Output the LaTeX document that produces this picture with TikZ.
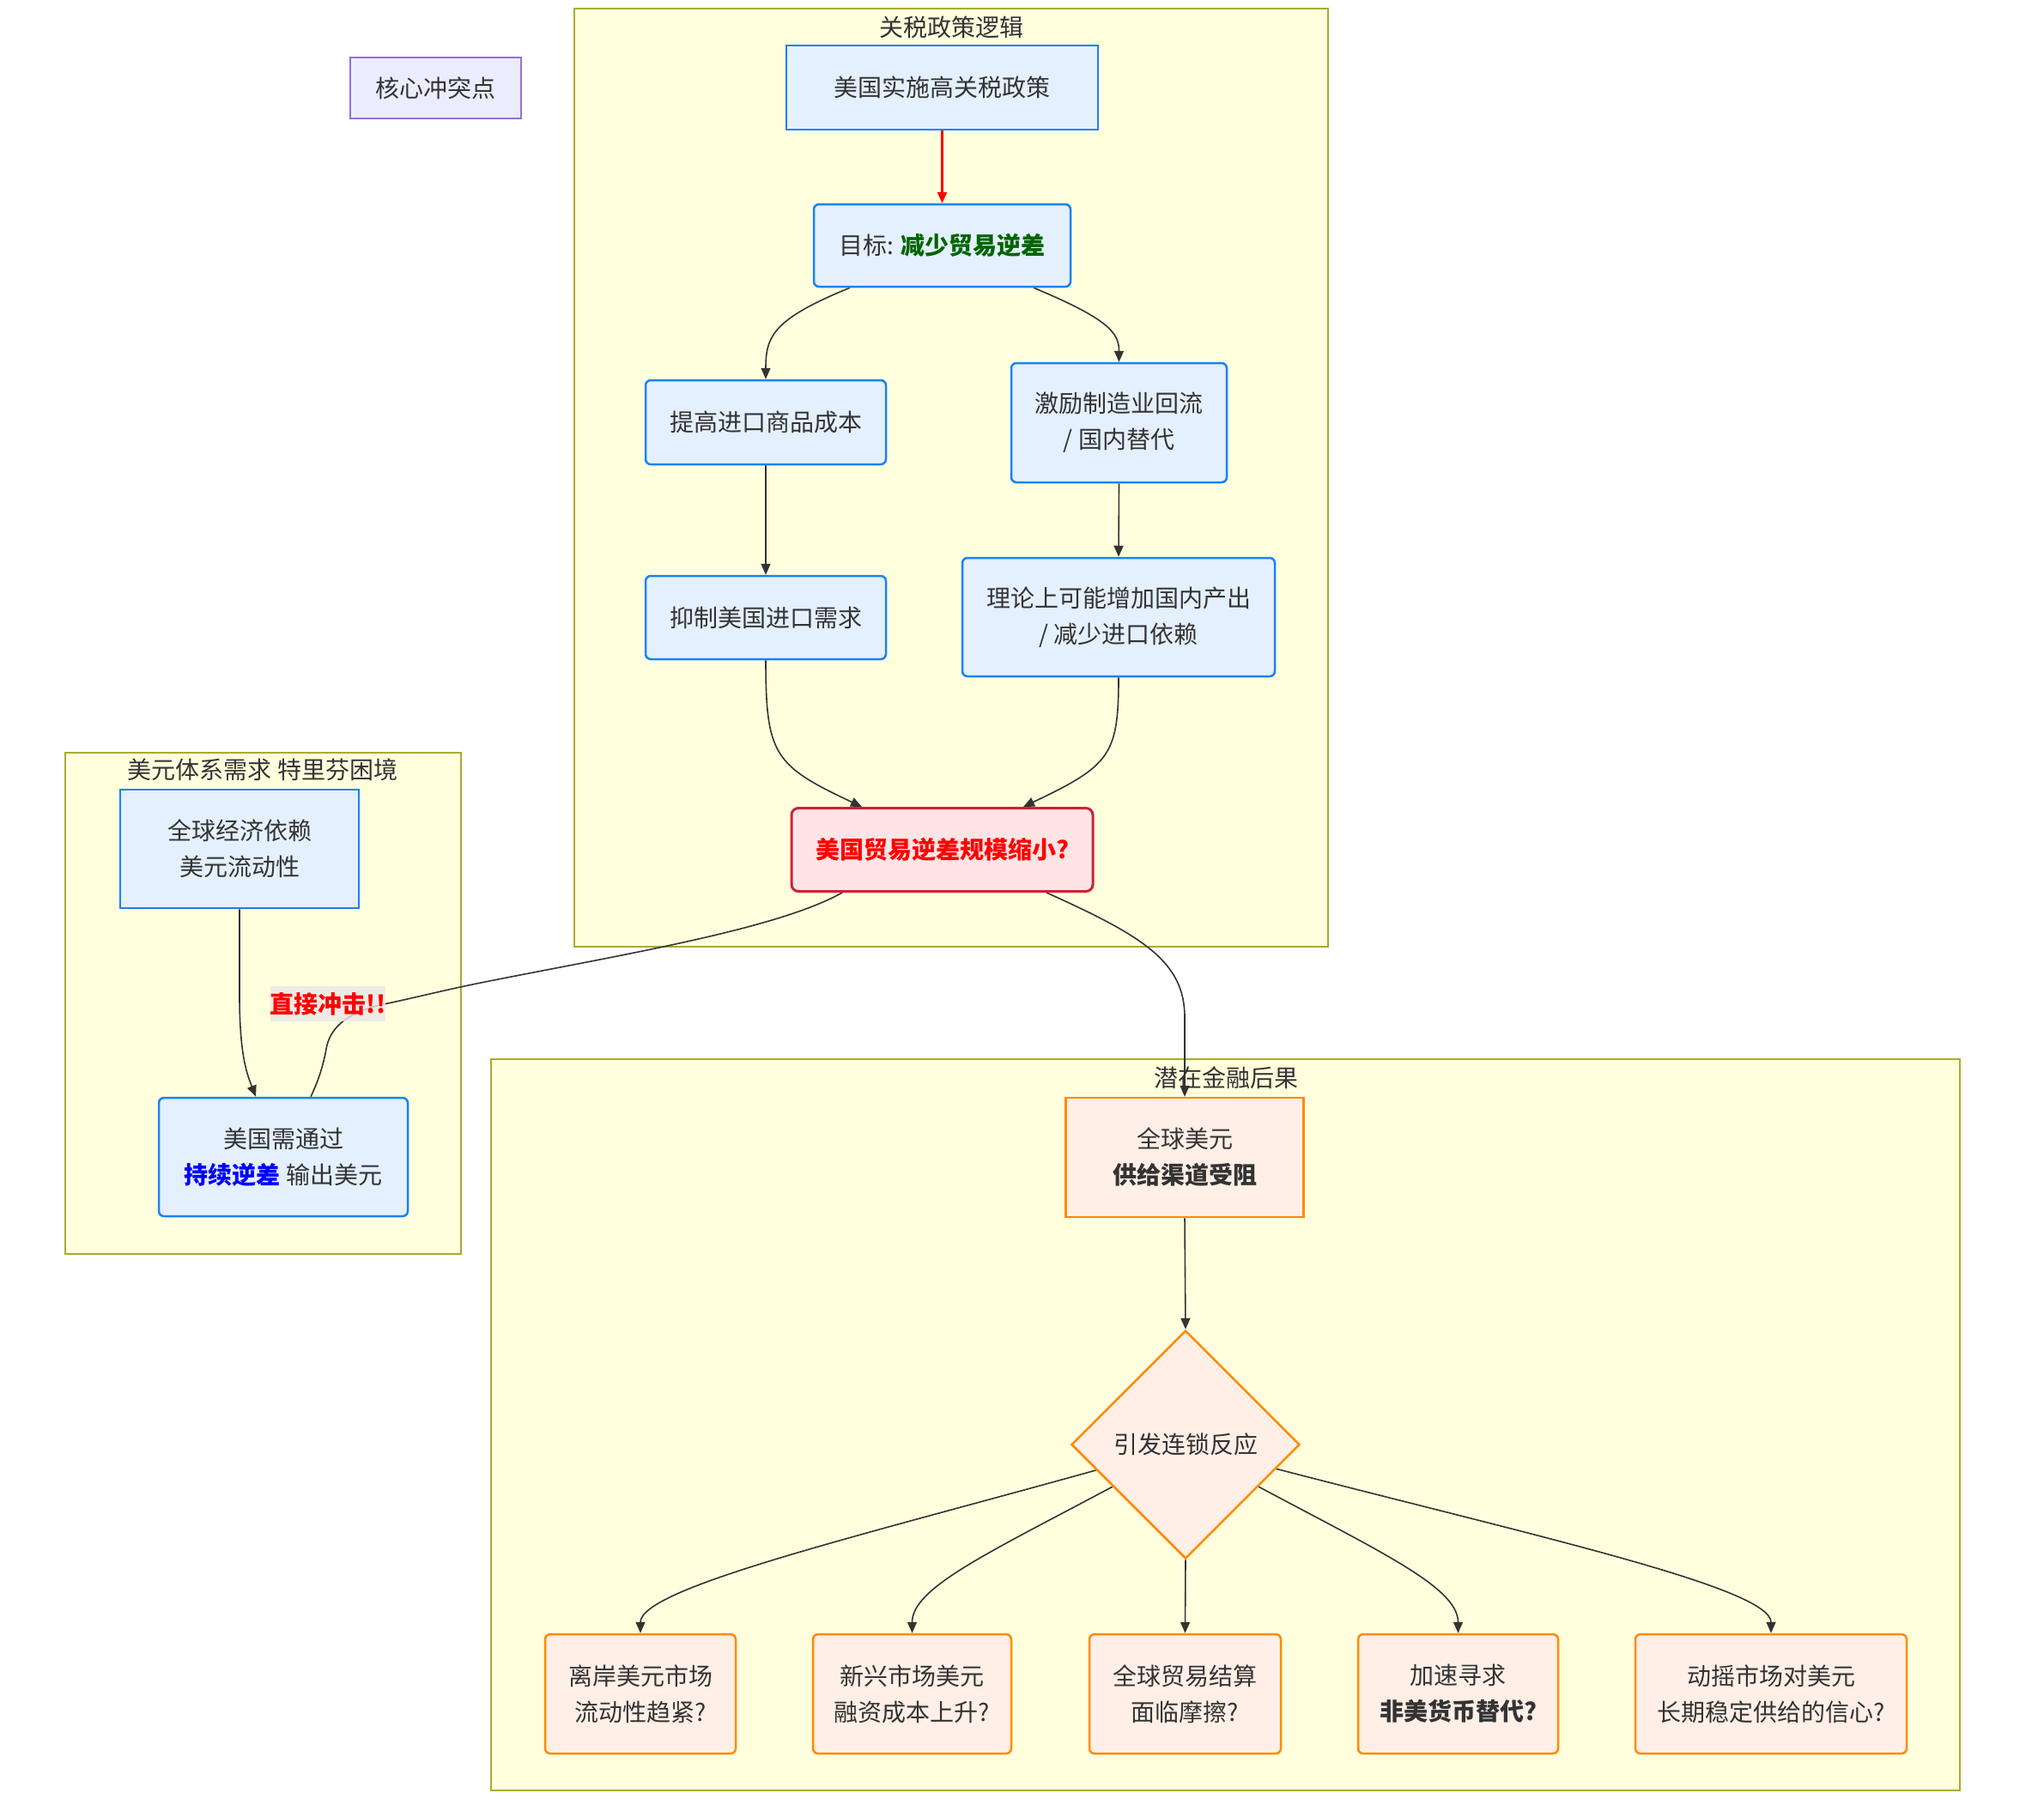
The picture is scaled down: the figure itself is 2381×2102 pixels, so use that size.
\documentclass[tikz,border=0pt]{standalone}
\usepackage{fontspec}
\setmainfont{Noto Sans CJK SC}
\usetikzlibrary{arrows.meta,shapes.geometric,calc}

\definecolor{txt}{HTML}{333333}
\definecolor{ecol}{HTML}{333333}
\definecolor{bfill}{HTML}{E4F0FE}
\definecolor{bstroke}{HTML}{1A82F5}
\definecolor{ofill}{HTML}{FFEFE6}
\definecolor{ostroke}{HTML}{FF8A00}
\definecolor{rfill}{HTML}{FFE4E6}
\definecolor{rstroke}{HTML}{C82536}
\definecolor{cfill}{HTML}{FFFFDE}
\definecolor{cstroke}{HTML}{AAAA33}
\definecolor{pfill}{HTML}{ECECFF}
\definecolor{pstroke}{HTML}{9370DB}
\definecolor{goalgreen}{HTML}{006400}
\definecolor{hitbg}{HTML}{E8E8E8}

\pgfdeclarelayer{frames}
\pgfdeclarelayer{links}
\pgfsetlayers{frames,links,main}

\tikzset{
  nbox/.style={draw, line width=2.5pt, inner sep=0pt, align=center, text=txt},
  bluesq/.style={nbox, draw=bstroke, fill=bfill},
  bluernd/.style={bluesq, rounded corners=6pt},
  orgsq/.style={nbox, draw=ostroke, fill=ofill},
  orgrnd/.style={orgsq, rounded corners=6pt},
  redrnd/.style={nbox, draw=rstroke, fill=rfill, rounded corners=8pt, line width=3pt},
  purplebox/.style={nbox, draw=pstroke, fill=pfill, line width=1.5pt},
  cluster/.style={draw=cstroke, fill=cfill, line width=1.5pt},
  ctitle/.style={text=txt, inner sep=0pt},
  edge/.style={draw=ecol, line width=1.6pt, -{Triangle[length=13pt,width=11pt]}},
  plainedge/.style={draw=ecol, line width=1.6pt},
  redarrow/.style={draw=red, line width=2.6pt, -{Triangle[length=13pt,width=11pt]}},
}

\begin{document}
\begin{tikzpicture}[x=1pt,y=-1pt,font=\fontsize{28}{42}\selectfont]
\begin{pgfonlayer}{frames}
\useasboundingbox[fill=white] (0,0) rectangle (2381,2102);
% subgraph frames
\draw[cluster] (669,10) rectangle (1547,1103);
\draw[cluster] (76,877) rectangle (537,1461);
\draw[cluster] (572,1234) rectangle (2283,2086);
\end{pgfonlayer}
\node[ctitle] (t1) at (1108,32) {关税政策逻辑};
\node[ctitle] (t2) at (306,897) {美元体系需求 特里芬困境};
\node[ctitle] (t3) at (1428,1256) {潜在金融后果};

% legend box
\node[purplebox, minimum width=199, minimum height=71] (core) at (507.5,102.5) {核心冲突点};

% tariff logic
\node[bluesq, minimum width=363, minimum height=98] (tariff) at (1097.5,102) {美国实施高关税政策};
\node[bluernd, minimum width=299, minimum height=96] (goal) at (1097.5,286) {目标: \textbf{\textcolor{goalgreen}{减少贸易逆差}}};
\node[bluernd, minimum width=280, minimum height=98] (raise) at (892,492) {提高进口商品成本};
\node[bluernd, minimum width=251, minimum height=139] (manuf) at (1303.5,492.5) {激励制造业回流\\/ 国内替代};
\node[bluernd, minimum width=280, minimum height=97] (suppress) at (892,719.5) {抑制美国进口需求};
\node[bluernd, minimum width=364, minimum height=138] (theory) at (1303,719) {理论上可能增加国内产出\\/ 减少进口依赖};
\node[redrnd, minimum width=351, minimum height=97] (trade) at (1097.5,990) {\textbf{\textcolor{red}{美国贸易逆差规模缩小?}}};

% dollar system
\node[bluesq, minimum width=278, minimum height=138] (reliance) at (279,989) {全球经济依赖\\美元流动性};
\node[bluernd, minimum width=290, minimum height=138] (deficit) at (330,1348) {美国需通过\\\textbf{\textcolor{blue}{持续逆差}} 输出美元};
\node[fill=hitbg, fill opacity=0.8, text opacity=1, inner sep=0pt, minimum width=134, minimum height=41] (hit) at (382,1169.5) {\textbf{\textcolor{red}{直接冲击!!}}};

% financial consequences
\node[orgsq, minimum width=277, minimum height=139] (usd) at (1380,1348.5) {全球美元\\\textbf{供给渠道受阻}};
\node[nbox, draw=ostroke, fill=ofill, shape=diamond, aspect=1, minimum width=266, minimum height=266] (chain) at (1381,1683) {引发连锁反应};
\node[orgrnd, minimum width=222, minimum height=139] (b1) at (746,1973.5) {离岸美元市场\\流动性趋紧?};
\node[orgrnd, minimum width=231, minimum height=139] (b2) at (1062.5,1973.5) {新兴市场美元\\融资成本上升?};
\node[orgrnd, minimum width=223, minimum height=139] (b3) at (1380.5,1973.5) {全球贸易结算\\面临摩擦?};
\node[orgrnd, minimum width=233, minimum height=139] (b4) at (1698.5,1973.5) {加速寻求\\\textbf{非美货币替代?}};
\node[orgrnd, minimum width=316, minimum height=139] (b5) at (2063,1973.5) {动摇市场对美元\\长期稳定供给的信心?};

% connectors (under the boxes and the edge label)
\begin{pgfonlayer}{links}
\draw[redarrow] (tariff.south) -- (goal.north);
\draw[edge] ($(goal.south)+(-107.5,0)$) .. controls (900,372) and (892,392) .. (raise.north);
\draw[edge] ($(goal.south)+(106.5,0)$) .. controls (1292,372) and (1303.5,388) .. (manuf.north);
\draw[edge] (raise.south) -- (suppress.north);
\draw[edge] (manuf.south) -- (theory.north);
\draw[edge] (suppress.south) .. controls (892,880) and (902,892) .. ($(trade.north)+(-93.5,0)$);
\draw[edge] (theory.south) .. controls (1303,880) and (1293,892) .. ($(trade.north)+(94.5,0)$);
\draw[edge] ($(trade.south)+(121.5,0)$) .. controls (1330,1090) and (1380,1120) .. (1380,1185) -- (usd.north);
\draw[edge] (reliance.south) -- (279,1160) .. controls (279,1230) and (288,1252) .. ($(deficit.north)+(-32,0)$);
\draw[plainedge] ($(trade.south)+(-116.5,0)$) .. controls (905,1083) and (720,1113) .. (560,1145)
  .. controls (520,1153) and (485,1162) .. (hit.east)
  .. controls (400,1180) and (384,1200) .. (380,1222)
  .. controls (376,1245) and (369,1263) .. ($(deficit.north)+(32,0)$);
\draw[edge] (usd.south) -- (chain.north);
\draw[edge] (chain.196) .. controls (1000,1790) and (746,1850) .. (b1.north);
\draw[edge] (chain.210) .. controls (1150,1810) and (1062.5,1850) .. (b2.north);
\draw[edge] (chain.south) -- (b3.north);
\draw[edge] (chain.-30) .. controls (1612,1810) and (1698.5,1850) .. (b4.north);
\draw[edge] (chain.-15) .. controls (1790,1790) and (2063,1850) .. (b5.north);
\end{pgfonlayer}
\end{tikzpicture}
\end{document}
